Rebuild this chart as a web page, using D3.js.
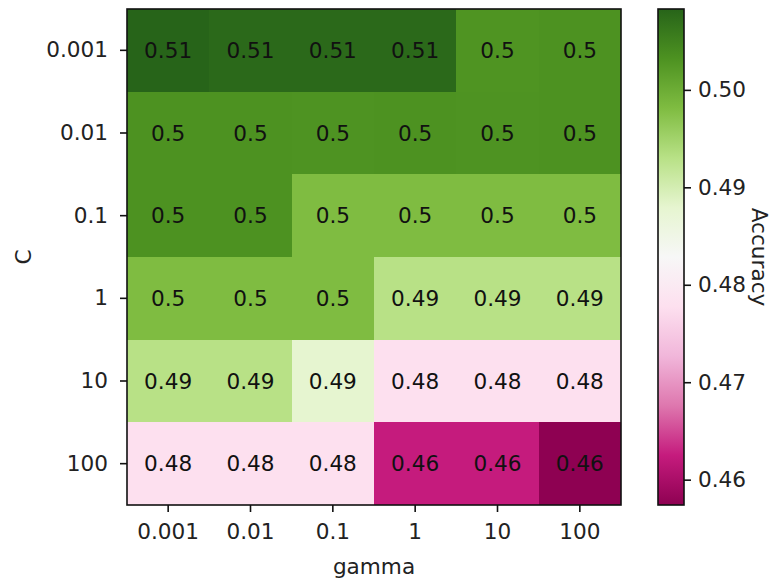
<!DOCTYPE html>
<html>
<head>
<meta charset="utf-8">
<script src="https://cdn.jsdelivr.net/npm/d3@7"></script>
<style>
  html, body { margin: 0; padding: 0; background: #fff; }
  svg { display: block; font-family: "DejaVu Sans", sans-serif; }
</style>
</head>
<body>
<svg id="chart" width="773" height="578"></svg>
<script>
// ---- data ----
const gammaLabels = ["0.001", "0.01", "0.1", "1", "10", "100"];
const cLabels = ["0.001", "0.01", "0.1", "1", "10", "100"];
const row_0_001 = [0.5083, 0.5077, 0.5077, 0.5078, 0.5030, 0.5032];
const row_0_01  = [0.5032, 0.5032, 0.5031, 0.5032, 0.5031, 0.5032];
const row_0_1   = [0.5032, 0.5032, 0.4981, 0.4981, 0.4981, 0.4981];
const row_1     = [0.4981, 0.4981, 0.4981, 0.4930, 0.4930, 0.4930];
const row_10    = [0.4930, 0.4930, 0.4879, 0.4778, 0.4778, 0.4778];
const row_100   = [0.4778, 0.4778, 0.4778, 0.4625, 0.4625, 0.4574];
const accuracy = [row_0_001, row_0_01, row_0_1, row_1, row_10, row_100];
const colorbarTicks = [0.46, 0.47, 0.48, 0.49, 0.50];
const PiYG = ["#8e0152", "#c51b7d", "#de77ae", "#f1b6da", "#fde0ef", "#f7f7f7",
              "#e6f5d0", "#b8e186", "#7fbc41", "#4d9221", "#276419"];

// ---- layout ----
const plot = { left: 127, right: 621, top: 9, bottom: 505 };
const cbar = { left: 658, right: 684 };
const FS = 21.6;

const svg = d3.select("#chart");

const cells = [];
accuracy.forEach((row, i) => row.forEach((v, j) => cells.push({ c: cLabels[i], g: gammaLabels[j], v })));

const vmin = d3.min(cells, d => d.v), vmax = d3.max(cells, d => d.v);
const color = d3.scaleLinear()
  .domain(PiYG.map((_, i) => vmin + i * (vmax - vmin) / (PiYG.length - 1)))
  .range(PiYG)
  .clamp(true);

const x = d3.scaleBand().domain(gammaLabels).range([plot.left, plot.right]);
const y = d3.scaleBand().domain(cLabels).range([plot.top, plot.bottom]);

// cells
svg.append("g").selectAll("rect").data(cells).join("rect")
  .attr("x", d => x(d.g)).attr("y", d => y(d.c))
  .attr("width", x.bandwidth()).attr("height", y.bandwidth())
  .attr("fill", d => color(d.v))
  .attr("shape-rendering", "crispEdges");

// cell text
svg.append("g").selectAll("text").data(cells).join("text")
  .attr("x", d => x(d.g) + x.bandwidth() / 2)
  .attr("y", d => y(d.c) + y.bandwidth() / 2)
  .attr("text-anchor", "middle")
  .attr("dominant-baseline", "central")
  .attr("font-size", FS)
  .attr("fill", "#111")
  .text(d => d3.format(".2~f")(+d3.format(".2f")(d.v)));

// frame
svg.append("rect")
  .attr("x", plot.left).attr("y", plot.top)
  .attr("width", plot.right - plot.left).attr("height", plot.bottom - plot.top)
  .attr("fill", "none").attr("stroke", "#111").attr("stroke-width", 1.6);

function styleAxis(g) {
  g.select(".domain").remove();
  g.selectAll(".tick line").attr("stroke", "#111").attr("stroke-width", 1.6);
  g.selectAll(".tick text").attr("font-size", FS).attr("fill", "#222")
    .attr("font-family", "DejaVu Sans, sans-serif");
}

svg.append("g").attr("transform", `translate(0,${plot.bottom})`)
  .call(d3.axisBottom(x).tickSize(7).tickPadding(12)).call(styleAxis);
svg.append("g").attr("transform", `translate(${plot.left},0)`)
  .call(d3.axisLeft(y).tickSize(7).tickPadding(12)).call(styleAxis);

// axis labels
svg.append("text").attr("x", (plot.left + plot.right) / 2).attr("y", 566)
  .attr("text-anchor", "middle").attr("dominant-baseline", "central")
  .attr("font-size", FS).attr("fill", "#222").text("gamma");
svg.append("text")
  .attr("transform", `translate(23,${(plot.top + plot.bottom) / 2}) rotate(-90)`)
  .attr("text-anchor", "middle").attr("dominant-baseline", "central")
  .attr("font-size", FS).attr("fill", "#222").text("C");

// colorbar
const defs = svg.append("defs");
const grad = defs.append("linearGradient").attr("id", "cbgrad")
  .attr("x1", 0).attr("y1", 1).attr("x2", 0).attr("y2", 0);
grad.selectAll("stop").data(PiYG).join("stop")
  .attr("offset", (_, i) => i / (PiYG.length - 1))
  .attr("stop-color", d => d);

svg.append("rect")
  .attr("x", cbar.left).attr("y", plot.top)
  .attr("width", cbar.right - cbar.left).attr("height", plot.bottom - plot.top)
  .attr("fill", "url(#cbgrad)");
svg.append("rect")
  .attr("x", cbar.left).attr("y", plot.top)
  .attr("width", cbar.right - cbar.left).attr("height", plot.bottom - plot.top)
  .attr("fill", "none").attr("stroke", "#111").attr("stroke-width", 1.6);

const cScale = d3.scaleLinear().domain([vmin, vmax]).range([plot.bottom, plot.top]);
svg.append("g").attr("transform", `translate(${cbar.right},0)`)
  .call(d3.axisRight(cScale).tickValues(colorbarTicks).tickFormat(d3.format(".2f")).tickSize(7).tickPadding(7))
  .call(styleAxis);

svg.append("text")
  .attr("transform", `translate(759,${(plot.top + plot.bottom) / 2}) rotate(90)`)
  .attr("text-anchor", "middle").attr("dominant-baseline", "central")
  .attr("font-size", FS).attr("fill", "#222").text("Accuracy");
</script>
</body>
</html>
